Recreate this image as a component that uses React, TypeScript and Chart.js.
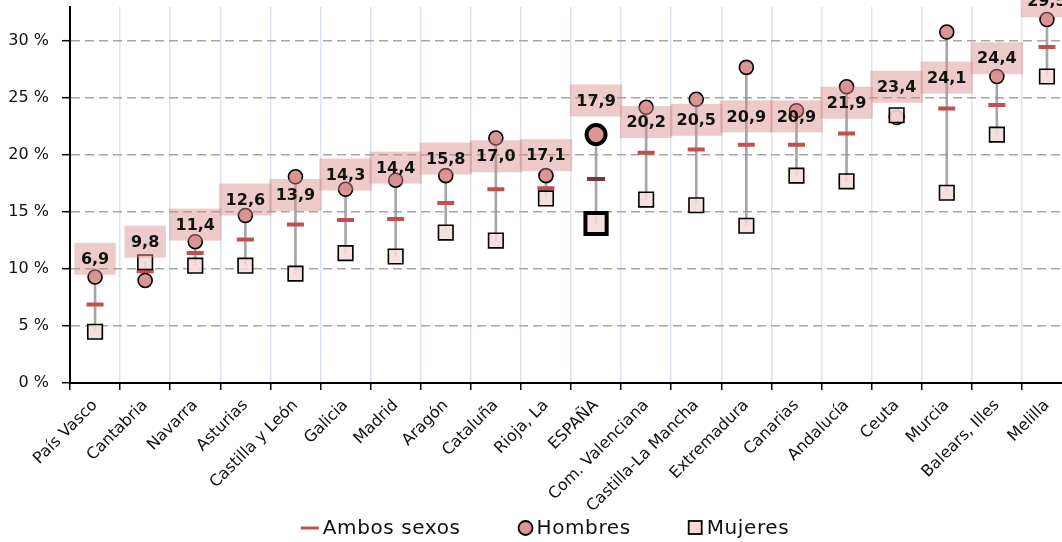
import React, { useEffect, useRef } from 'react';
import { Chart, registerables } from 'chart.js';

Chart.register(...registerables);

const categories = [
  'País Vasco', 'Cantabria', 'Navarra', 'Asturias', 'Castilla y León', 'Galicia', 'Madrid', 'Aragón',
  'Cataluña', 'Rioja, La', 'ESPAÑA', 'Com. Valenciana', 'Castilla-La Mancha', 'Extremadura', 'Canarias',
  'Andalucía', 'Ceuta', 'Murcia', 'Balears, Illes', 'Melilla',
];
const ambosSexos = [6.9, 9.8, 11.4, 12.6, 13.9, 14.3, 14.4, 15.8, 17.0, 17.1, 17.9, 20.2, 20.5, 20.9, 20.9, 21.9, 23.4, 24.1, 24.4, 29.5];
const hombres = [9.3, 9.0, 12.4, 14.7, 18.1, 17.0, 17.8, 18.2, 21.5, 18.2, 21.8, 24.2, 24.9, 27.7, 23.9, 26.0, 23.3, 30.8, 26.9, 31.9];
const mujeres = [4.5, 10.6, 10.3, 10.3, 9.6, 11.4, 11.1, 13.2, 12.5, 16.2, 14.0, 16.1, 15.6, 13.8, 18.2, 17.7, 23.5, 16.7, 21.8, 26.9];
// vertical level (in % units) where each value label box sits
const labelLevels = [10.9, 12.4, 13.9, 16.1, 16.5, 18.3, 18.9, 19.7, 19.9, 20.0, 24.8, 22.9, 23.1, 23.4, 23.4, 24.6, 26.0, 26.8, 28.5, 33.5];
const yTicks = [0, 5, 10, 15, 20, 25, 30];
const highlight = 'ESPAÑA';

const FONT = '"DejaVu Sans", sans-serif';
const RED = '#c0504d';
const CIRCLE_FILL = '#d99694';
const SQUARE_FILL = 'rgba(242,220,219,0.88)';

const fmt = (v: number) => v.toFixed(1).replace('.', ',');

const valueLabels = {
  id: 'valueLabels',
  afterDatasetsDraw(chart: any) {
    const { ctx, scales } = chart;
    const x = scales.x;
    const y = scales.y;
    ctx.save();
    ctx.font = `bold 16px ${FONT}`;
    ctx.textAlign = 'center';
    ctx.textBaseline = 'middle';
    ambosSexos.forEach((v, i) => {
      const text = fmt(v);
      const cx = x.getPixelForValue(i);
      const cy = y.getPixelForValue(labelLevels[i]);
      const w = ctx.measureText(text).width + 13;
      const h = 32;
      ctx.fillStyle = 'rgba(214,140,140,0.45)';
      ctx.fillRect(cx - w / 2, cy - h / 2, w, h);
      ctx.fillStyle = '#111';
      ctx.fillText(text, cx, cy + 1);
    });
    ctx.restore();
  },
};

const customLegend = {
  id: 'customLegend',
  afterDraw(chart: any) {
    const { ctx } = chart;
    const items = chart.data.datasets.filter((d: any) => d.inLegend);
    ctx.save();
    ctx.font = `20px ${FONT}`;
    try {
      (ctx as any).letterSpacing = '0.6px';
    } catch (e) {
      /* ignore */
    }
    ctx.textBaseline = 'middle';
    ctx.textAlign = 'left';
    const symW = 18;
    const symGap = 4;
    const itemGap = 54;
    const widths = items.map((d: any) => symW + symGap + ctx.measureText(d.label).width);
    const total = widths.reduce((a: number, b: number) => a + b, 0) + itemGap * (items.length - 1);
    const cy = 528;
    let xPos = 545 - total / 2;
    items.forEach((d: any, i: number) => {
      const sx = xPos + symW / 2;
      if (d.legendKind === 'line') {
        ctx.strokeStyle = RED;
        ctx.lineWidth = 3;
        ctx.beginPath();
        ctx.moveTo(xPos, cy);
        ctx.lineTo(xPos + symW, cy);
        ctx.stroke();
      } else if (d.legendKind === 'circle') {
        ctx.fillStyle = CIRCLE_FILL;
        ctx.strokeStyle = '#000';
        ctx.lineWidth = 1.8;
        ctx.beginPath();
        ctx.arc(sx + 2, cy, 7, 0, Math.PI * 2);
        ctx.fill();
        ctx.stroke();
      } else {
        ctx.fillStyle = '#f2dcdb';
        ctx.strokeStyle = '#000';
        ctx.lineWidth = 1.8;
        ctx.fillRect(sx - 5, cy - 7, 13, 13);
        ctx.strokeRect(sx - 5, cy - 7, 13, 13);
      }
      ctx.fillStyle = '#111';
      ctx.fillText(d.label, xPos + symW + symGap, cy + 1);
      xPos += widths[i] + itemGap;
    });
    ctx.restore();
  },
};

export default function App() {
  const ref = useRef<HTMLCanvasElement | null>(null);

  useEffect(() => {
    if (!ref.current) return;
    const hi = categories.indexOf(highlight);
    const isHi = (ctx: any) => ctx.dataIndex === hi;

    const chart = new Chart(ref.current, {
      type: 'line',
      data: {
        labels: categories,
        datasets: [
          {
            type: 'bar',
            label: 'range',
            data: mujeres.map((m, i) => [m, hombres[i]]) as any,
            backgroundColor: 'rgba(150,150,150,0.85)',
            barThickness: 2,
            order: 4,
          } as any,
          {
            type: 'line',
            label: 'Ambos sexos',
            data: ambosSexos,
            showLine: false,
            pointStyle: 'line',
            pointRadius: (c: any) => (isHi(c) ? 9 : 8.5),
            pointBorderWidth: 4,
            pointBorderColor: (c: any) => (isHi(c) ? '#6e3a3a' : RED),
            pointBackgroundColor: RED,
            order: 3,
            inLegend: true,
            legendKind: 'line',
          } as any,
          {
            type: 'line',
            label: 'Hombres',
            data: hombres,
            showLine: false,
            pointStyle: 'circle',
            pointRadius: (c: any) => (isHi(c) ? 9.5 : 7),
            pointBorderWidth: (c: any) => (isHi(c) ? 4 : 1.6),
            pointBorderColor: '#000',
            pointBackgroundColor: CIRCLE_FILL,
            order: 2,
            inLegend: true,
            legendKind: 'circle',
          } as any,
          {
            type: 'line',
            label: 'Mujeres',
            data: mujeres,
            showLine: false,
            pointStyle: 'rect',
            pointRadius: (c: any) => (isHi(c) ? 15 : 10.3),
            pointBorderWidth: (c: any) => (isHi(c) ? 4 : 1.6),
            pointBorderColor: '#000',
            pointBackgroundColor: SQUARE_FILL,
            order: 1,
            inLegend: true,
            legendKind: 'rect',
          } as any,
        ],
      },
      options: {
        responsive: false,
        animation: false,
        events: [],
        layout: { autoPadding: false, padding: { top: 7, right: 28, left: 0, bottom: 0 } },
        plugins: {
          legend: { display: false },
          tooltip: { enabled: false },
        },
        scales: {
          x: {
            type: 'category',
            offset: true,
            grid: {
              offset: true,
              color: '#dbe5f1',
              lineWidth: 1.5,
              tickColor: '#000',
              tickLength: 7,
              tickWidth: 1.5,
            },
            border: { color: '#000', width: 2 },
            ticks: {
              autoSkip: false,
              maxRotation: 45,
              minRotation: 45,
              padding: 6,
              color: '#111',
              font: { family: FONT, size: 16 },
            },
            afterFit: (s: any) => {
              s.height = 159;
              s.paddingLeft = 0;
              s.paddingRight = 0;
            },
          },
          y: {
            min: 0,
            max: 33,
            grid: {
              color: '#a6a6a6',
              lineWidth: 1.4,
              tickColor: '#000',
              tickLength: 8,
              tickWidth: 1.5,
            },
            border: { color: '#000', width: 2, dash: [9, 5] },
            ticks: {
              padding: 13,
              color: '#111',
              font: { family: FONT, size: 16 },
              callback: (v: any) => `${v} %`,
            },
            afterBuildTicks: (s: any) => {
              s.ticks = yTicks.map((v) => ({ value: v }));
            },
            afterFit: (s: any) => {
              s.width = 70;
              s.paddingTop = 0;
              s.paddingBottom = 0;
            },
          },
        },
      },
      plugins: [valueLabels, customLegend],
    } as any);

    return () => chart.destroy();
  }, []);

  return (
    <div
      style={{
        position: 'fixed',
        left: 0,
        top: 0,
        width: 1062,
        height: 542,
        overflow: 'hidden',
        background: '#fff',
      }}
    >
      <canvas ref={ref} width={1100} height={542} style={{ width: 1100, height: 542, display: 'block' }} />
    </div>
  );
}
